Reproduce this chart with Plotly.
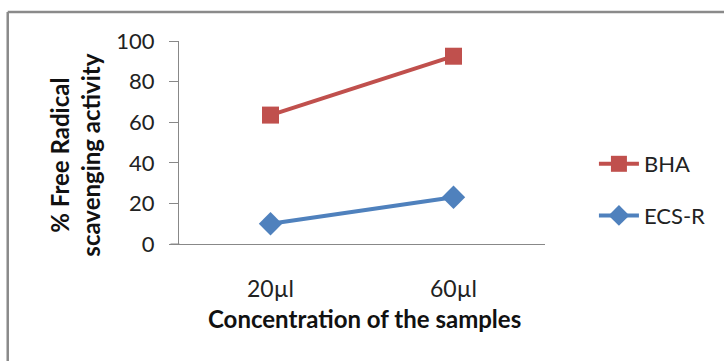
import plotly.graph_objects as go

categories = ["20µl", "60µl"]
bha = [63.5, 92.5]
ecs_r = [10, 23]
y_ticks = [0, 20, 40, 60, 80, 100]

W, H = 724, 361
L, R, T, B = 178.5, 545, 41, 244

def px(x):
    return (x - L) / (R - L)

def py(y):
    return (B - y) / (B - T)

FONT = "Lato"

fig = go.Figure()
fig.add_trace(go.Scatter(
    x=categories, y=bha, name="BHA", mode="lines+markers",
    line=dict(color="#C0504D", width=4),
    marker=dict(symbol="square", size=17, color="#C0504D"),
    legendgroup="a",
))
fig.add_trace(go.Scatter(
    x=categories, y=ecs_r, name="ECS-R", mode="lines+markers",
    line=dict(color="#4F81BD", width=4),
    marker=dict(symbol="diamond", size=18, color="#4F81BD"),
    legendgroup="b",
))

fig.update_layout(
    width=W, height=H,
    margin=dict(l=L, r=W - R, t=T, b=H - B),
    paper_bgcolor="white", plot_bgcolor="white",
    font=dict(family=FONT, size=22, color="#222222"),
    showlegend=True,
    legend=dict(
        x=px(594), y=py(143), xanchor="left", yanchor="top",
        font=dict(size=22, color="#222222"),
        tracegroupgap=20, itemwidth=40, bgcolor="rgba(0,0,0,0)",
    ),
    xaxis=dict(
        type="category", range=[-0.5, 1.5],
        showline=True, linecolor="#888888", linewidth=1,
        showgrid=False, ticks="", ticklabelstandoff=24,
        tickfont=dict(size=23, family=FONT, color="#222222"),
        zeroline=False,
    ),
    yaxis=dict(
        range=[0, 100], tickvals=y_ticks,
        showline=True, linecolor="#888888", linewidth=1,
        showgrid=False, ticks="outside", ticklen=9, tickcolor="#888888",
        ticklabelstandoff=10,
        tickfont=dict(size=22, family=FONT, color="#222222"),
        zeroline=False,
    ),
)

# extension of x axis line to the left of the y axis
fig.add_shape(type="line", xref="paper", yref="paper",
              x0=px(170), x1=px(179), y0=0, y1=0,
              line=dict(color="#888888", width=1))

# chart frame (left and top visible)
fig.add_shape(type="line", xref="paper", yref="paper",
              x0=px(7), x1=px(730), y0=py(12), y1=py(12),
              line=dict(color="#8a8a8a", width=2.5))
fig.add_shape(type="line", xref="paper", yref="paper",
              x0=px(7), x1=px(7), y0=py(12), y1=py(370),
              line=dict(color="#8a8a8a", width=2.5))

fig.add_annotation(
    text="% Free Radical<br>scavenging activity",
    xref="paper", yref="paper", x=px(74), y=py(155),
    xanchor="center", yanchor="middle", textangle=-90, showarrow=False,
    font=dict(family=FONT, size=24, color="#111111", weight="bold"),
)
fig.add_annotation(
    text="Concentration of the samples",
    xref="paper", yref="paper", x=px(364), y=py(318),
    xanchor="center", yanchor="middle", showarrow=False,
    font=dict(family=FONT, size=24, color="#111111", weight="bold"),
)

fig.write_html("out.html")
